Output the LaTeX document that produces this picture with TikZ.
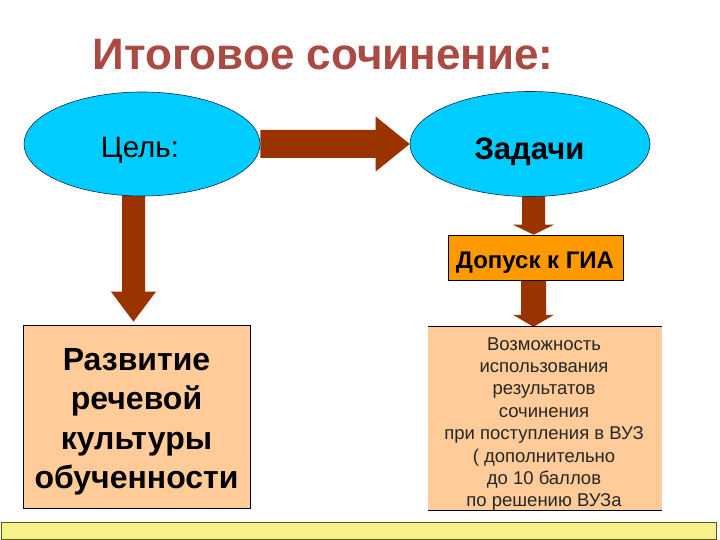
\documentclass[tikz,border=0pt]{standalone}
\usepackage{fontspec}
\setmainfont{Liberation Sans}
\usetikzlibrary{calc,shapes.geometric,backgrounds}
\definecolor{titlec}{RGB}{170,74,66}
\definecolor{ellc}{RGB}{0,204,255}
\definecolor{ellline}{RGB}{20,40,90}
\definecolor{arrc}{RGB}{153,51,0}
\definecolor{boxc}{RGB}{255,204,153}
\definecolor{dopc}{RGB}{255,153,0}
\definecolor{barc}{RGB}{247,241,140}
\definecolor{barline}{RGB}{90,90,20}
\newcommand{\downblock}[5]{%
  \fill[arrc] ($(#1)+(-#3,0)$) -- ($(#2)+(-#3,-#5)$) -- ($(#2)+(-#4,-#5)$) -- (#2)
    -- ($(#2)+(#4,-#5)$) -- ($(#2)+(#3,-#5)$) -- ($(#1)+(#3,0)$) -- cycle;}
\newcommand{\rightblock}[5]{%
  \fill[arrc] ($(#1)+(0,-#3)$) -- ($(#2)+(-#5,-#3)$) -- ($(#2)+(-#5,-#4)$) -- (#2)
    -- ($(#2)+(-#5,#4)$) -- ($(#2)+(-#5,#3)$) -- ($(#1)+(0,#3)$) -- cycle;}
\begin{document}
\begin{tikzpicture}[x=1pt,y=-1pt,
  ell/.style={ellipse,draw=ellline,line width=0.6pt,fill=ellc,inner sep=0pt},
  box/.style={rectangle,draw=black,line width=0.6pt,fill=boxc,inner sep=0pt}]
\useasboundingbox (0,0) rectangle (720,540);
% title
\node[anchor=base,text=titlec,font=\bfseries\fontsize{44}{44}\selectfont] (title) at (323,70) {Итоговое сочинение:};
% ellipses
\node[ell,minimum width=236pt,minimum height=104pt] (goal) at (142,144) {};
\node[font=\fontsize{29.5}{29.5}\selectfont,anchor=base] (goalt) at (140,158) {Цель:};
\node[ell,minimum width=240pt,minimum height=105pt] (tasks) at (530,144) {};
\node[font=\bfseries\fontsize{31}{31}\selectfont,anchor=base] (taskst) at (529.5,160) {Задачи};
% boxes
\node[rectangle,draw=black,line width=0.6pt,fill=dopc,minimum width=175pt,minimum height=45pt,inner sep=0pt] (dop) at (535.5,257.5) {};
\node[font=\bfseries\fontsize{24}{24}\selectfont,anchor=base] (dopt) at (535,268) {Допуск к ГИА};
\node[box,minimum width=227pt,minimum height=183pt] (dev) at (136.5,416.5) {};
\node[font=\bfseries\fontsize{32}{39.5}\selectfont,align=center,anchor=center] (devt) at (136.5,422) {Развитие\\речевой\\культуры\\обученности};
\node[rectangle,fill=boxc,minimum width=234pt,minimum height=183pt,inner sep=0pt] (res) at (545,418.5) {};
\draw[line width=0.8pt] (res.north west) -- (res.north east);
\draw[line width=0.8pt] (res.south west) -- (res.south east);
\node[font=\fontsize{18.5}{22.4}\selectfont,align=center,text=black!85] (rest) at (544,424) {Возможность\\использования\\результатов\\сочинения\\при поступления в ВУЗ\\( дополнительно\\до 10 баллов\\по решению ВУЗа};
% bottom bar
\node[rectangle,draw=barline,line width=0.7pt,fill=barc,minimum width=715pt,minimum height=16.5pt,inner sep=0pt,anchor=north west] (bar) at (1,522) {};
% arrows
\coordinate (a1s) at ([xshift=-8.5pt]goal.south);
\coordinate (a1e) at (a1s |- dev.north);
\coordinate (a1t) at ($(a1e)+(0,-3)$);
\coordinate (a2s) at ([xshift=3.5pt]tasks.south);
\coordinate (a2t) at (a2s |- dop.north);
\coordinate (a3s) at ([xshift=-2pt]dop.south);
\coordinate (a3t) at (a3s |- res.north);
\begin{scope}[on background layer]
\rightblock{goal.east}{tasks.west}{14}{27.5}{34}
\downblock{goal.center -| a1s}{a1t}{11.5}{22.5}{30}
\downblock{tasks.center -| a2s}{a2t}{11.5}{20.5}{10}
\downblock{a3s}{a3t}{12.5}{20.5}{12}
\end{scope}
\end{tikzpicture}
\end{document}
